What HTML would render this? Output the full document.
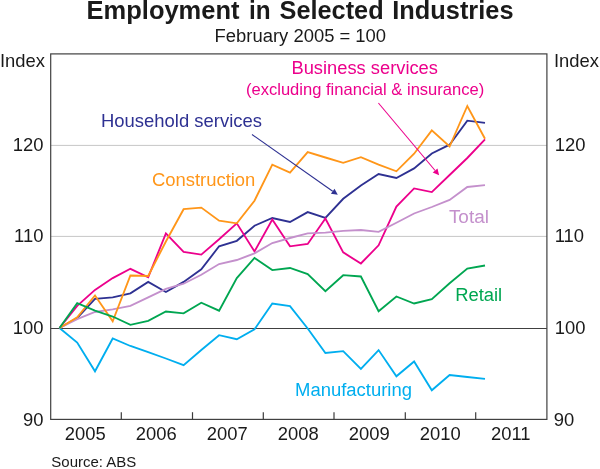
<!DOCTYPE html>
<html><head><meta charset="utf-8"><title>Employment in Selected Industries</title>
<style>html,body{margin:0;padding:0;background:#fff}svg{display:block}text{font-family:"Liberation Sans",sans-serif}</style>
</head><body>
<svg width="600" height="469" viewBox="0 0 600 469">
<rect width="600" height="469" fill="#fff"/>
<g font-size="25.2" font-weight="bold" fill="#1a1a1a"><text x="86.6" y="18.7" textLength="152.9" lengthAdjust="spacingAndGlyphs">Employment</text><text x="249" y="18.7" textLength="21.6" lengthAdjust="spacingAndGlyphs">in</text><text x="279.5" y="18.7" textLength="104.1" lengthAdjust="spacingAndGlyphs">Selected</text><text x="392.3" y="18.7" textLength="121.2" lengthAdjust="spacingAndGlyphs">Industries</text></g>
<text x="214.6" y="41.6" font-size="18" fill="#1a1a1a" textLength="171.5" lengthAdjust="spacingAndGlyphs">February 2005 = 100</text>
<line x1="50.7" x2="546.9" y1="145.4" y2="145.4" stroke="#c6c6c6" stroke-width="1"/>
<line x1="50.7" x2="546.9" y1="236.4" y2="236.4" stroke="#c6c6c6" stroke-width="1"/>
<line x1="50.7" x2="546.9" y1="328.4" y2="328.4" stroke="#404040" stroke-width="1.05"/>
<polyline points="59.5,328.0 77.2,342.5 95.0,371.3 112.7,338.5 130.4,346.0 148.2,352.1 165.9,358.5 183.6,365.2 201.3,350.0 219.1,335.2 236.8,339.2 254.5,329.3 272.3,303.5 290.0,306.1 307.7,328.5 325.4,353.0 343.2,351.2 360.9,368.9 378.6,350.1 396.4,376.3 414.1,361.5 431.8,390.3 449.6,375.0 467.3,377.0 485.0,378.9" fill="none" stroke="#00aeef" stroke-width="1.85" stroke-linejoin="miter" stroke-linecap="butt"/>
<polyline points="59.5,328.0 77.2,318.1 95.0,298.9 112.7,297.3 130.4,293.3 148.2,281.9 165.9,292.0 183.6,281.9 201.3,269.3 219.1,246.3 236.8,240.8 254.5,225.7 272.3,218.0 290.0,222.0 307.7,212.1 325.4,218.0 343.2,198.8 360.9,185.5 378.6,174.0 396.4,178.0 414.1,168.4 431.8,153.5 449.6,144.7 467.3,120.7 485.0,122.8" fill="none" stroke="#2e3192" stroke-width="1.85" stroke-linejoin="miter" stroke-linecap="butt"/>
<polyline points="59.5,328.0 77.2,305.9 95.0,289.9 112.7,278.1 130.4,268.8 148.2,277.3 165.9,233.4 183.6,252.0 201.3,254.6 219.1,239.3 236.8,223.3 254.5,251.4 272.3,219.5 290.0,246.3 307.7,244.0 325.4,218.5 343.2,252.4 360.9,263.5 378.6,245.3 396.4,206.5 414.1,188.4 431.8,192.1 449.6,175.0 467.3,158.0 485.0,139.3" fill="none" stroke="#ec008c" stroke-width="1.85" stroke-linejoin="miter" stroke-linecap="butt"/>
<polyline points="59.5,328.0 77.2,319.2 95.0,312.0 112.7,309.3 130.4,305.9 148.2,297.3 165.9,288.8 183.6,283.7 201.3,274.7 219.1,264.0 236.8,260.0 254.5,253.3 272.3,243.0 290.0,238.0 307.7,233.4 325.4,232.6 343.2,230.8 360.9,230.0 378.6,231.9 396.4,222.8 414.1,213.5 431.8,207.0 449.6,199.9 467.3,187.0 485.0,185.2" fill="none" stroke="#c490cc" stroke-width="1.85" stroke-linejoin="miter" stroke-linecap="butt"/>
<polyline points="59.5,328.0 77.2,317.3 95.0,295.5 112.7,321.3 130.4,275.5 148.2,276.0 165.9,241.5 183.6,209.2 201.3,207.6 219.1,220.7 236.8,223.3 254.5,200.7 272.3,164.7 290.0,172.7 307.7,152.1 325.4,157.5 343.2,162.8 360.9,157.2 378.6,164.7 396.4,171.3 414.1,153.7 431.8,130.4 449.6,146.5 467.3,106.0 485.0,138.8" fill="none" stroke="#ff9619" stroke-width="1.85" stroke-linejoin="miter" stroke-linecap="butt"/>
<polyline points="59.5,328.0 77.2,303.2 95.0,310.7 112.7,316.5 130.4,324.8 148.2,320.8 165.9,311.5 183.6,313.3 201.3,302.7 219.1,310.7 236.8,278.1 254.5,257.9 272.3,270.1 290.0,268.0 307.7,274.1 325.4,291.2 343.2,275.2 360.9,276.5 378.6,311.2 396.4,296.5 414.1,303.5 431.8,299.2 449.6,283.2 467.3,268.5 485.0,265.5" fill="none" stroke="#00a651" stroke-width="1.85" stroke-linejoin="miter" stroke-linecap="butt"/>
<rect x="50.7" y="53.9" width="496.2" height="365.5" fill="none" stroke="#404040" stroke-width="1.2"/>
<line x1="121.3" x2="121.3" y1="412.2" y2="419.4" stroke="#3c3c3c" stroke-width="1.2"/>
<line x1="192.5" x2="192.5" y1="412.2" y2="419.4" stroke="#3c3c3c" stroke-width="1.2"/>
<line x1="263.3" x2="263.3" y1="412.2" y2="419.4" stroke="#3c3c3c" stroke-width="1.2"/>
<line x1="334" x2="334" y1="412.2" y2="419.4" stroke="#3c3c3c" stroke-width="1.2"/>
<line x1="405.3" x2="405.3" y1="412.2" y2="419.4" stroke="#3c3c3c" stroke-width="1.2"/>
<line x1="475.7" x2="475.7" y1="412.2" y2="419.4" stroke="#3c3c3c" stroke-width="1.2"/>
<text x="43.4" y="151.4" font-size="18.4" text-anchor="end" fill="#1a1a1a">120</text>
<text x="554.7" y="151.4" font-size="18.4" fill="#1a1a1a">120</text>
<text x="43.4" y="242.0" font-size="18.4" text-anchor="end" fill="#1a1a1a">110</text>
<text x="554.7" y="242.0" font-size="18.4" fill="#1a1a1a">110</text>
<text x="43.4" y="333.7" font-size="18.4" text-anchor="end" fill="#1a1a1a">100</text>
<text x="554.7" y="333.7" font-size="18.4" fill="#1a1a1a">100</text>
<text x="43.4" y="425.6" font-size="18.4" text-anchor="end" fill="#1a1a1a">90</text>
<text x="553.7" y="425.6" font-size="18.4" fill="#1a1a1a">90</text>
<text x="0" y="66.6" font-size="18.4" fill="#1a1a1a">Index</text>
<text x="553.9" y="66.6" font-size="18.4" fill="#1a1a1a">Index</text>
<text x="85.3" y="439.5" font-size="18.4" text-anchor="middle" fill="#1a1a1a">2005</text>
<text x="156.3" y="439.5" font-size="18.4" text-anchor="middle" fill="#1a1a1a">2006</text>
<text x="227.3" y="439.5" font-size="18.4" text-anchor="middle" fill="#1a1a1a">2007</text>
<text x="298.3" y="439.5" font-size="18.4" text-anchor="middle" fill="#1a1a1a">2008</text>
<text x="369.3" y="439.5" font-size="18.4" text-anchor="middle" fill="#1a1a1a">2009</text>
<text x="440.3" y="439.5" font-size="18.4" text-anchor="middle" fill="#1a1a1a">2010</text>
<text x="510.7" y="439.5" font-size="18.4" text-anchor="middle" fill="#1a1a1a">2011</text>
<text x="51.3" y="466.6" font-size="14.5" fill="#1a1a1a" textLength="85" lengthAdjust="spacingAndGlyphs">Source: ABS</text>
<text x="101" y="127" font-size="18.4" fill="#2e3192" textLength="161" lengthAdjust="spacingAndGlyphs">Household services</text>
<text x="151.9" y="186.4" font-size="18" fill="#ff9619" textLength="103.5" lengthAdjust="spacingAndGlyphs">Construction</text>
<text x="364.7" y="74.4" font-size="18" text-anchor="middle" fill="#ec008c" textLength="146.5" lengthAdjust="spacingAndGlyphs">Business services</text>
<text x="365.1" y="94.6" font-size="16.5" text-anchor="middle" fill="#ec008c" textLength="238.3" lengthAdjust="spacingAndGlyphs">(excluding financial &amp; insurance)</text>
<text x="448.9" y="222.8" font-size="18" fill="#c490cc" textLength="40" lengthAdjust="spacingAndGlyphs">Total</text>
<text x="455.2" y="300.8" font-size="18" fill="#00a651" textLength="47" lengthAdjust="spacingAndGlyphs">Retail</text>
<text x="295" y="395.9" font-size="18" fill="#00aeef" textLength="117" lengthAdjust="spacingAndGlyphs">Manufacturing</text>
<line x1="252" y1="134.5" x2="332.7" y2="191.2" stroke="#2e3192" stroke-width="1.1"/><polygon points="337.8,194.8 330.9,193.8 334.5,188.7" fill="#2e3192"/>
<line x1="378.4" y1="103" x2="435.1" y2="170.5" stroke="#ec008c" stroke-width="1.1"/><polygon points="439.1,175.2 432.7,172.4 437.5,168.5" fill="#ec008c"/>
</svg></body></html>
